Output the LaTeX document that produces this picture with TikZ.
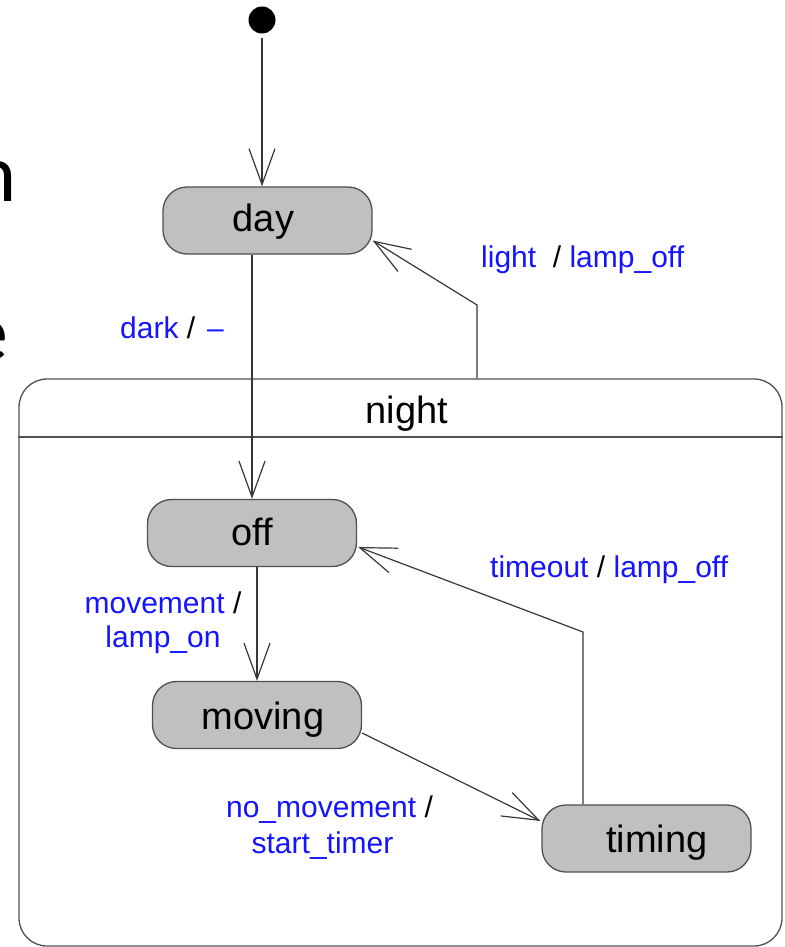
\documentclass[tikz,border=0pt]{standalone}
\usepackage{fontspec}
\setmainfont{Liberation Sans}
\newfontfamily\slidefont{Carlito}
\usetikzlibrary{arrows.meta}
\definecolor{stategray}{RGB}{192,192,192}
\definecolor{edgegray}{RGB}{80,80,80}
\definecolor{linegray}{RGB}{55,55,55}
\definecolor{evblue}{RGB}{20,20,255}

\begin{document}
\begin{tikzpicture}[x=1pt,y=-1pt,
  state/.style={draw=edgegray, line width=1.3pt, fill=stategray, rounded corners=24pt,
    minimum width=209pt, minimum height=67pt, inner sep=0pt},
  statetext/.style={font=\fontsize{38}{44}\selectfont, anchor=base, inner sep=0pt},
  superstate/.style={draw=edgegray, line width=1.3pt, rounded corners=28pt, inner sep=0pt},
  tr/.style={draw=linegray, line width=1.2pt, -{Straight Barb[length=36pt,width=26pt]}},
  evt/.style={font=\fontsize{30}{36}\selectfont, text=evblue, inner sep=0pt},
  frag/.style={font=\slidefont\fontsize{82}{98}\selectfont, anchor=base east, inner sep=0pt}
]
\useasboundingbox (0,0) rectangle (784,947);

% slide text running in from the left margin
\node[frag] (fragN) at (17,201) {n};
\node[frag] (fragE) at (9,360) {e};
\node[frag] (fragT) at (2,721) {t};

% composite state "night"
\node[superstate, minimum width=763pt, minimum height=567pt] (night) at (400.5,662.5) {};
\draw[draw=edgegray, line width=1.3pt] (night.west |- 0,437) -- (night.east |- 0,437);
\node[statetext] (nighttitle) at (407,423) {night};

% initial pseudostate
\node[circle, fill=black, minimum size=27pt, inner sep=0pt] (init) at (262,20) {};

% simple states
\node[state] (day) at (267.5,220.5) {};
\node[state] (off) at (252,533) {};
\node[state] (moving) at (257,715) {};
\node[state] (timing) at (646.5,838.5) {};

% state names, set on a common baseline inside each box
\node[statetext] (dayname) at (263.5,231) {day};
\node[statetext] (offname) at (252,545) {off};
\node[statetext] (movingname) at (263,729) {moving};
\node[statetext] (timingname) at (657,852) {timing};

% bend points of the elbow transitions
\coordinate (nbend) at (477,305);
\coordinate (tbend) at (583,632);

% transitions
\draw[tr, shorten <=4pt] (init) -- (init |- day.north);
\draw[tr] (day.south -| off.north) -- (off.north);
\draw[tr] (night.north -| nbend) -- (nbend) -- ([yshift=-20pt]day.east);
\draw[tr] (off.south -| moving.north) -- (moving.north);
\draw[tr] ([yshift=-18pt]moving.east) -- ([xshift=-1pt,yshift=17.5pt]timing.west);
\draw[tr] (timing.north -| tbend) -- (tbend) -- ([xshift=1pt,yshift=-14pt]off.east);

% transition labels
\node[evt, anchor=base west] (lblDark) at (120,338) {dark \textcolor{black}{/}\hspace{12pt}–};
\node[evt, anchor=base west] (lblLight) at (481,267) {light\ \ \textcolor{black}{/} lamp\_off};
\node[evt, anchor=base west] (lblTimeout) at (490,577) {timeout \textcolor{black}{/} lamp\_off};
\node[evt, anchor=base] (lblMoveA) at (163,613) {movement \textcolor{black}{/}};
\node[evt, anchor=base] (lblMoveB) at (163,647) {lamp\_on};
\node[evt, anchor=base] (lblNoMoveA) at (329.5,817) {no\_movement \textcolor{black}{/}};
\node[evt, anchor=base] (lblNoMoveB) at (322.5,853) {start\_timer};
\end{tikzpicture}
\end{document}
